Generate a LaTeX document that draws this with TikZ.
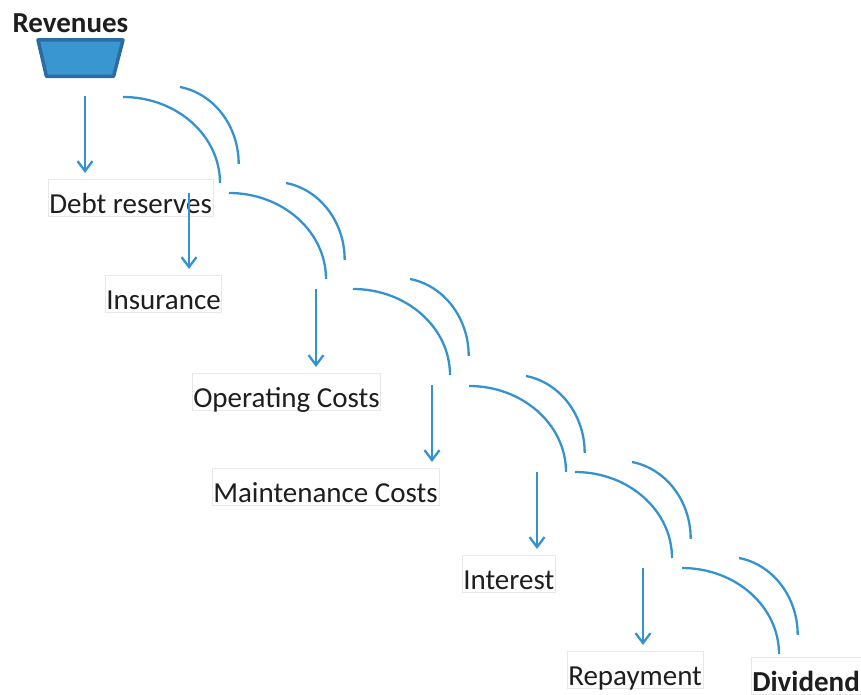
\documentclass[tikz,border=0pt]{standalone}
\usepackage{fontspec}
\setmainfont{Carlito}
\usepackage{xcolor}
\usetikzlibrary{positioning}
\usetikzlibrary{arrows.meta}

\definecolor{flowblue}{RGB}{52,146,206}
\definecolor{fundfill}{RGB}{58,150,208}
\definecolor{fundedge}{RGB}{44,108,164}
\definecolor{boxgray}{RGB}{232,232,232}
\definecolor{inkgray}{RGB}{30,30,30}

\tikzset{
  flow/.style={draw=flowblue, line width=2.3pt},
  flowarrow/.style={flow, -{Straight Barb[length=10pt,width=15pt]}, shorten >=6pt},
  item/.style={draw=boxgray, line width=0.5pt, fill=white, anchor=north west,
    inner xsep=1pt, inner ysep=0pt, text height=34pt, text depth=3pt,
    text=inkgray, font=\fontsize{29}{33}\selectfont},
}

\begin{document}
\begin{tikzpicture}[x=1pt,y=1pt]
\useasboundingbox (0,0) rectangle (861,-695);

% Source of the cash
\node[anchor=base west, text=inkgray, font=\fontsize{29}{33}\selectfont\bfseries] (rev) at (9,-33) {Revenues};
\draw[fill=fundfill, draw=fundedge, line width=3.5pt, line join=round]
  (38,-40) -- (123,-40) -- (113.5,-76.5) -- (46.5,-76.5) -- cycle;

% Waterfall steps
\node[item] (debt) at (48,-179) {Debt reserves};
\node[item] (insur) at (105,-275) {Insurance};
\node[item] (opcost) at (192,-373) {Operating Costs};
\node[item] (maint) at (212,-468) {Maintenance Costs};
\node[item] (inter) at (462,-555) {Interest};
\node[item] (repay) at (567,-651) {Repayment};
\node[item, font=\fontsize{29}{33}\selectfont\bfseries] (divid) at (751,-657) {Dividend};

% Tops of the down arrows
\coordinate (a1) at (85,-96);
\coordinate (a2) at (189,-193);
\coordinate (a3) at (316,-289);
\coordinate (a4) at (432,-385);
\coordinate (a5) at (537,-472);
\coordinate (a6) at (643,-568);

\draw[flowarrow] (a1) -- (a1 |- debt.north);
\draw[flowarrow] (a2) -- (a2 |- insur.north);
\draw[flowarrow] (a3) -- (a3 |- opcost.north);
\draw[flowarrow] (a4) -- (a4 |- maint.north);
\draw[flowarrow] (a5) -- (a5 |- inter.north);
\draw[flowarrow] (a6) -- (a6 |- repay.north);

% Overflow arcs, two per step
\foreach \sx/\sy in {123/97, 229/193, 353/289, 469/386, 575/472, 682/568}
{
\draw[flow] (\sx,-\sy) arc[start angle=90, end angle=0, x radius=97, y radius=86];
\draw[flow] (\sx+57,-\sy+10) arc[start angle=80, end angle=0, x radius=71, y radius=78];
}

\end{tikzpicture}
\end{document}
